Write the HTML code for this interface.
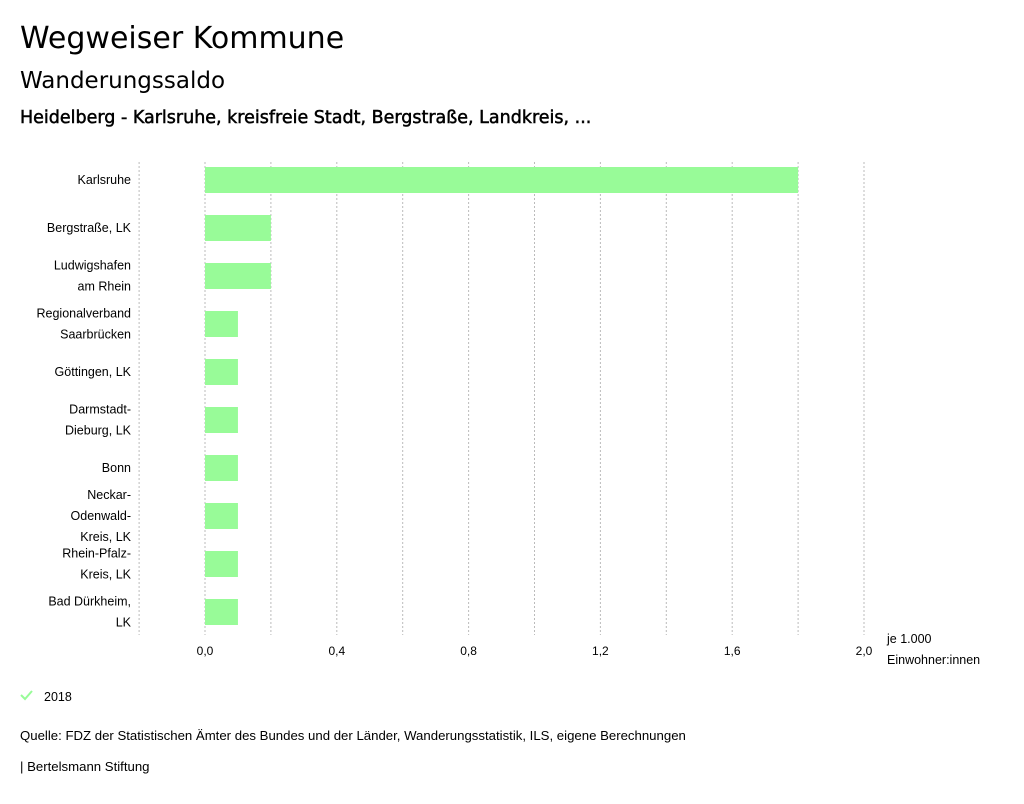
<!DOCTYPE html>
<html><head><meta charset="utf-8"><style>
body{margin:0;background:#fff;font-family:"Liberation Sans",sans-serif;color:#000}
svg text{font-family:"Liberation Sans",sans-serif}
svg text.h{font-family:"DejaVu Sans",sans-serif}
</style></head><body>
<svg width="1024" height="799" xmlns="http://www.w3.org/2000/svg" id="chart">
<text class="h" x="20" y="48" font-size="30">Wegweiser Kommune</text>
<text class="h" x="20" y="88" font-size="23">Wanderungssaldo</text>
<text class="h" x="20" y="123" font-size="17.5" stroke="#000" stroke-width="0.5">Heidelberg - Karlsruhe, kreisfreie Stadt, Bergstraße, Landkreis, ...</text>
<g id="grid"></g><g id="bars"></g><g id="labels"></g><g id="ticks"></g>
<text x="887" y="643" font-size="12.5">je 1.000</text>
<text x="887" y="664" font-size="12.5">Einwohner:innen</text>
<path d="M21 695 l4 4 l7 -8" stroke="#98fb98" stroke-width="2" fill="none"/>
<text x="44" y="701" font-size="12.5">2018</text>
<text x="20" y="740" font-size="13.2">Quelle: FDZ der Statistischen Ämter des Bundes und der Länder, Wanderungsstatistik, ILS, eigene Berechnungen</text>
<text x="20" y="771" font-size="13.2">| Bertelsmann Stiftung</text>
</svg>
<script>
const categories=[["Karlsruhe"],["Bergstraße, LK"],["Ludwigshafen","am Rhein"],["Regionalverband","Saarbrücken"],["Göttingen, LK"],["Darmstadt-","Dieburg, LK"],["Bonn"],["Neckar-","Odenwald-","Kreis, LK"],["Rhein-Pfalz-","Kreis, LK"],["Bad Dürkheim,","LK"]];
const values=[1.8,0.2,0.2,0.1,0.1,0.1,0.1,0.1,0.1,0.1];
const tickValues=[-0.2,0,0.2,0.4,0.6,0.8,1.0,1.2,1.4,1.6,1.8,2.0];
const tickLabels=["","0,0","","0,4","","0,8","","1,2","","1,6","","2,0"];
const NS="http://www.w3.org/2000/svg";
const x=v=>205+v*(659/2);
const yc=i=>180+i*48;
function mk(t,a,p){const e=document.createElementNS(NS,t);for(const k in a)e.setAttribute(k,a[k]);document.getElementById(p).appendChild(e);return e;}
tickValues.forEach((v,i)=>{
 const l=mk('line',{x1:x(v),x2:x(v),y1:162,y2:635,stroke:'#bbb','stroke-dasharray':'2,2','stroke-width':1},'grid');
 
 
 if(tickLabels[i]){const t=mk('text',{x:x(v),y:655,'font-size':12,'text-anchor':'middle'},'ticks');t.textContent=tickLabels[i];
 
 }
});
values.forEach((v,i)=>{
 const r=mk('rect',{x:x(0),y:yc(i)-13,width:x(v)-x(0),height:26,fill:'#98fb98'},'bars');
 
 
 const lines=categories[i];const n=lines.length;
 lines.forEach((s,j)=>{
  const t=mk('text',{x:131,y:yc(i)+4+(j-(n-1)/2)*21,'font-size':12.5,'text-anchor':'end'},'labels');t.textContent=s;
  
  
 });
});
</script>
</body></html>
